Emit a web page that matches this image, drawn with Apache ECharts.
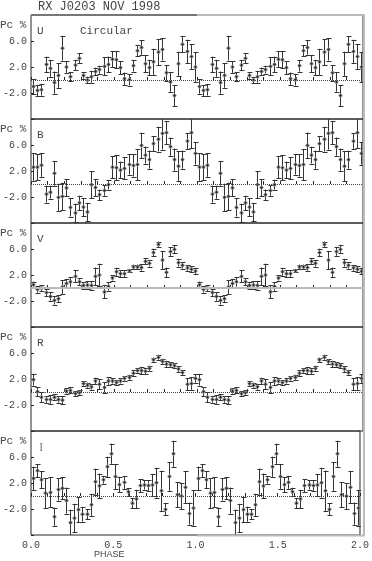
<!DOCTYPE html>
<html>
<head>
<meta charset="utf-8">
<script src="https://cdn.jsdelivr.net/npm/echarts@6/dist/echarts.min.js"></script>
<style>
  html, body { margin: 0; padding: 0; background: #fff; }
  #main { width: 372px; height: 561px; }
</style>
</head>
<body>
<div id="main"></div>
<script>
// phase bins per cycle (data is plotted twice, phase 0-1 and 1-2)
var BINS = 40;
var bands = ['U', 'B', 'V', 'R', 'I'];

// circular polarisation Pc (%) and 1-sigma errors, one cycle each
var uPc = [-1.0, -1.6, -1.5, 2.4, 1.8, -0.4, 0.7, 4.9, 2.0, 0.5, 2.3, 3.35, 0.7, 0.0, 0.5, 1.3, 1.6, 2.1, 2.4, 3.2,
           3.1, 1.9, 0.2, 0.05, 2.2, 4.5, 5.0, 2.5, 1.9, 2.8, 4.3, 4.7, 1.1, -0.3, -2.4, 2.5, 5.5, 4.4, 3.6, 2.0];
var uErr = [1.1, 0.85, 0.9, 1.2, 1.3, 1.7, 1.9, 1.9, 0.9, 0.7, 0.8, 0.8, 0.5, 0.5, 0.9, 0.6, 0.6, 1.4, 1.2, 1.2,
            1.3, 1.0, 0.95, 0.9, 0.9, 0.85, 1.1, 1.3, 1.2, 2.0, 2.0, 1.7, 1.2, 1.5, 1.6, 1.85, 1.2, 1.8, 1.9, 2.3];

var bPc = [2.6, 2.6, 2.9, -1.55, -1.25, 1.65, -2.05, -1.9, -0.6, -3.6, -4.45, -2.9, -3.55, -4.3, -0.1, -0.55, -1.65, -1.0, -0.1, 2.6,
           2.5, 2.15, 2.4, 3.0, 2.85, 3.0, 5.95, 4.45, 3.75, 6.2, 6.9, 7.8, 7.9, 5.75, 3.75, 2.75, 3.75, 6.6, 7.9, 4.7];
var bErr = [2.1, 2.0, 1.8, 1.3, 1.0, 1.9, 2.1, 2.1, 1.3, 1.4, 1.4, 1.1, 1.4, 1.4, 2.1, 1.3, 0.8, 0.8, 0.75, 1.7,
            1.9, 1.3, 1.7, 1.55, 1.7, 2.4, 1.95, 1.3, 1.4, 1.15, 1.9, 2.5, 1.8, 1.4, 1.7, 2.3, 1.4, 1.2, 2.4, 1.7];

var vPc = [0.5, -0.2, 0.0, -0.7, -1.3, -1.9, -1.65, 0.15, 0.7, 0.95, 1.8, 0.95, 0.4, 0.45, 0.4, 1.8, 2.0, -0.6, 0.25, 1.55,
           2.5, 2.2, 2.2, 2.65, 3.25, 3.25, 3.15, 4.1, 3.8, 5.45, 6.7, 4.3, 2.4, 5.6, 5.95, 3.9, 3.5, 3.1, 2.9, 2.6];
var vErr = [0.5, 0.5, 0.45, 0.55, 0.65, 0.65, 0.55, 1.05, 0.7, 0.75, 0.9, 0.55, 0.5, 0.6, 0.65, 1.35, 1.75, 1.0, 0.65, 0.4,
            0.6, 0.5, 0.5, 0.25, 0.35, 0.35, 0.5, 0.45, 0.5, 0.6, 0.45, 1.4, 0.75, 0.65, 0.6, 0.6, 0.5, 0.45, 0.5, 0.5];

var rPc = [1.9, 0.05, -0.8, -1.15, -1.15, -0.8, -1.15, -1.25, 0.15, 0.25, -0.25, -0.1, 1.3, 1.05, 0.8, 1.7, 1.2, 0.7, 1.7, 1.7,
           1.45, 1.7, 2.1, 2.25, 2.9, 3.3, 3.3, 3.2, 3.65, 4.95, 5.35, 4.7, 4.3, 4.2, 4.05, 3.55, 3.0, 1.2, 1.3, 2.1];
var rErr = [0.9, 0.7, 0.75, 0.5, 0.65, 0.5, 0.5, 0.6, 0.4, 0.45, 0.4, 0.4, 0.35, 0.4, 0.45, 0.5, 0.75, 0.8, 0.6, 0.4,
            0.35, 0.4, 0.35, 0.4, 0.45, 0.4, 0.55, 0.45, 0.4, 0.35, 0.4, 0.4, 0.5, 0.4, 0.4, 0.45, 0.4, 0.9, 0.95, 0.65];

var iPc = [2.7, 3.9, 2.5, 0.45, 0.55, -3.2, 1.0, 1.2, -0.7, -4.1, -3.4, -2.1, -2.8, -2.8, -1.35, 2.2, 1.55, 2.5, 4.5, 6.5,
           3.0, 1.75, 2.1, 0.65, -1.1, -0.45, 1.6, 1.7, 1.6, 1.7, 2.05, 0.8, -2.05, 3.0, 6.5, 0.2, 0.0, 1.35, -2.7, -1.85];
var iErr = [1.8, 1.0, 1.3, 2.3, 2.3, 1.4, 1.7, 1.7, 2.0, 2.0, 2.2, 1.9, 1.15, 0.8, 1.7, 2.0, 1.9, 0.6, 1.55, 1.55,
            1.9, 1.2, 1.0, 0.6, 0.8, 1.4, 1.0, 0.7, 0.8, 1.7, 2.3, 3.1, 0.9, 2.2, 2.0, 1.9, 2.0, 2.5, 1.7, 2.7];

var pcList = [uPc, bPc, vPc, rPc, iPc];
var errList = [uErr, bErr, vErr, rErr, iErr];

var xTicks = ['0.0', '0.5', '1.0', '1.5', '2.0'];
var yTicks = ['-2.0', '2.0', '6.0'];

// layout
var LEFT = 31, PLOT_W = 332, TOP0 = 15, PANEL_H = 104;
var INK = '#262626';
var MONO = '"Liberation Mono", "DejaVu Sans Mono", monospace';

var myChart = echarts.init(document.getElementById('main'));

function renderErrorBar (params, api) {
  var x = api.value(0), y = api.value(1), e = api.value(2);
  var pc = api.coord([x, y]);
  var hi = api.coord([x, y + e]);
  var lo = api.coord([x, y - e]);
  var px = Math.round(pc[0]) + 0.5;
  var hw = 2;
  var st = { stroke: '#333', lineWidth: 1 };
  return {
    type: 'group',
    children: [
      { type: 'line', shape: { x1: px, y1: hi[1], x2: px, y2: lo[1] }, style: st },
      { type: 'line', shape: { x1: px - hw, y1: Math.round(hi[1]) + 0.5, x2: px + hw + 1, y2: Math.round(hi[1]) + 0.5 }, style: st },
      { type: 'line', shape: { x1: px - hw, y1: Math.round(lo[1]) + 0.5, x2: px + hw + 1, y2: Math.round(lo[1]) + 0.5 }, style: st },
      { type: 'circle', shape: { cx: px, cy: pc[1], r: 1.6 }, style: { fill: '#222', stroke: '#999', lineWidth: 1 } }
    ]
  };
}

function buildOptions () {
  var grids = [], xAxes = [], yAxes = [], series = [], graphics = [];

  for (var i = 0; i < bands.length; i++) {
    var panelTop = TOP0 + i * PANEL_H;
    grids.push({
      left: LEFT, top: panelTop, width: PLOT_W, height: PANEL_H,
      show: true, borderColor: INK, borderWidth: 1, backgroundColor: 'transparent'
    });
    xAxes.push({
      gridIndex: i, type: 'value', min: 0, max: 2, interval: 0.5,
      axisLine: { show: false },
      axisTick: { show: true, inside: true, length: 3, lineStyle: { color: INK } },
      minorTick: { show: true, splitNumber: 5, length: 3, lineStyle: { color: INK } },
      splitLine: { show: false },
      axisLabel: {
        show: i === bands.length - 1, margin: 5,
        fontFamily: MONO, fontSize: 10, color: '#444',
        formatter: function (v) { return xTicks[Math.round(v * 2)] || ''; }
      }
    });
    yAxes.push({
      gridIndex: i, type: 'value', min: -6, max: 10, interval: 4,
      axisLine: { show: false },
      axisTick: { show: true, inside: true, length: 3, lineStyle: { color: INK } },
      splitLine: { show: false },
      axisLabel: {
        margin: 4, fontFamily: MONO, fontSize: 10, color: '#444',
        formatter: function (v) {
          var s = v.toFixed(1);
          return yTicks.indexOf(s) >= 0 ? s : '';
        }
      }
    });

    var data = [];
    for (var c = 0; c < 2; c++) {
      for (var k = 0; k < BINS; k++) {
        data.push([(k + 0.5) / BINS + c, pcList[i][k], errList[i][k]]);
      }
    }
    series.push({
      type: 'custom', name: bands[i],
      xAxisIndex: i, yAxisIndex: i,
      renderItem: renderErrorBar,
      clip: true,
      data: data,
      markLine: {
        silent: true, symbol: 'none', label: { show: false },
        lineStyle: bands[i] === 'V'
          ? { type: 'solid', color: '#bbb', width: 2 }
          : { type: 'dotted', color: '#444', width: 1 },
        data: [{ yAxis: 0 }]
      }
    });

    // "Pc %" and band letter
    graphics.push({
      type: 'text', left: 0, top: panelTop + 5,
      style: { text: 'Pc %', font: '11px ' + MONO, fill: '#444' }
    });
    graphics.push({
      type: 'text', left: bands[i] === 'I' ? 39 : 37, top: panelTop + (bands[i] === 'I' ? 10 : 11),
      style: {
        text: bands[i],
        font: bands[i] === 'I' ? '13px "Liberation Serif", serif' : '11px ' + MONO,
        fill: bands[i] === 'I' ? '#888' : '#444'
      }
    });
  }

  graphics.push({
    type: 'text', left: 80, top: TOP0 + 11,
    style: { text: 'Circular', font: '11px ' + MONO, fill: '#444' }
  });
  graphics.push({
    type: 'text', left: 38, top: 1,
    style: { text: 'RX J0203 NOV 1998', font: '12px ' + MONO, fill: '#444' }
  });
  graphics.push({
    type: 'text', left: 94, top: 550,
    style: { text: 'PHASE', font: '9px "Liberation Sans", sans-serif', fill: '#444' }
  });

  // faded parts of the outer frame
  var bottom = TOP0 + bands.length * PANEL_H;
  var mid = LEFT + PLOT_W / 2;
  graphics.push({
    type: 'line', z: 10, shape: { x1: LEFT + PLOT_W + 1, y1: TOP0, x2: LEFT + PLOT_W + 1, y2: bottom },
    style: { stroke: '#bbb', lineWidth: 2 }
  });
  graphics.push({
    type: 'line', z: 10, shape: { x1: LEFT, y1: TOP0, x2: mid, y2: TOP0 },
    style: { stroke: '#777', lineWidth: 2 }
  });
  graphics.push({
    type: 'line', z: 10, shape: { x1: mid, y1: TOP0, x2: LEFT + PLOT_W + 2, y2: TOP0 },
    style: { stroke: '#bbb', lineWidth: 2 }
  });
  graphics.push({
    type: 'line', z: 10, shape: { x1: mid, y1: bottom + 0.5, x2: LEFT + PLOT_W + 2, y2: bottom + 0.5 },
    style: { stroke: '#bbb', lineWidth: 2 }
  });

  return {
    animation: false,
    backgroundColor: '#fff',
    grid: grids,
    xAxis: xAxes,
    yAxis: yAxes,
    series: series,
    graphic: graphics
  };
}

myChart.setOption(buildOptions());
</script>
</body>
</html>
